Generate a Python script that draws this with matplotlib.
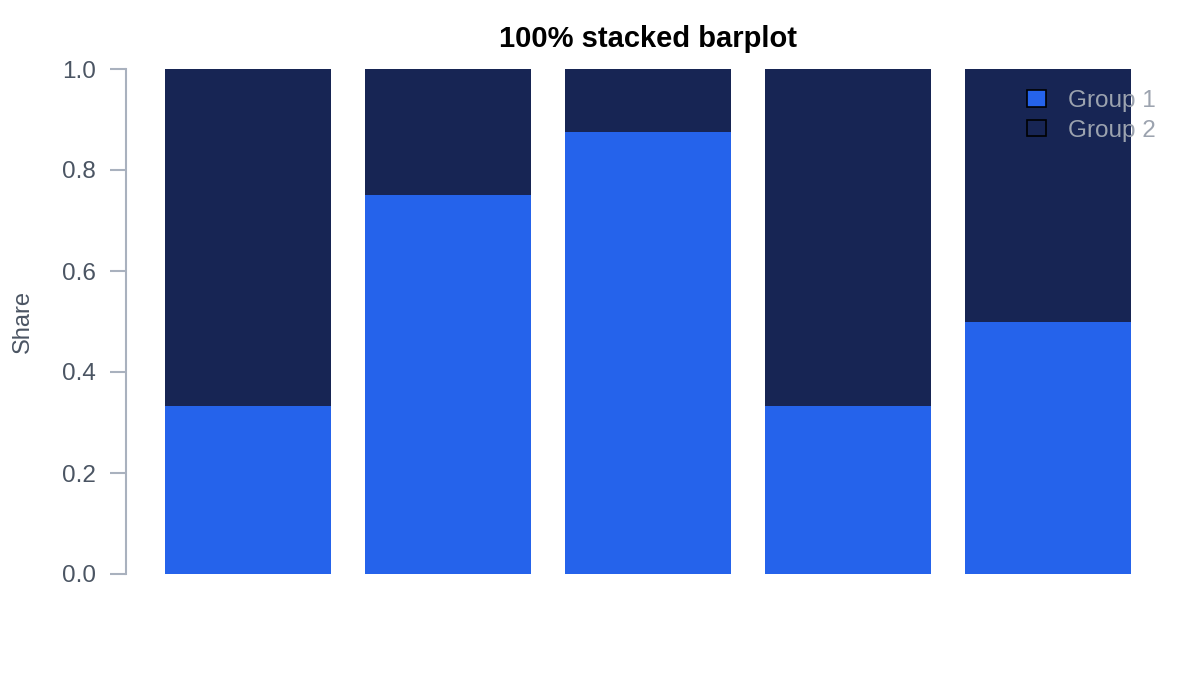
import matplotlib
matplotlib.use("Agg")
import matplotlib.pyplot as plt
import numpy as np

categories = ["A", "B", "C", "D", "E"]
group1 = [1/3, 0.75, 0.875, 1/3, 0.5]
group2 = [1 - v for v in group1]
series_names = ["Group 1", "Group 2"]
yticks = [0.0, 0.2, 0.4, 0.6, 0.8, 1.0]

plt.rcParams['font.family'] = ['Liberation Sans', 'DejaVu Sans']

fig = plt.figure(figsize=(12, 7), dpi=100)
ax = fig.add_axes([126/1200, 126/700, (1148-126)/1200, (574-69)/700])

x = np.arange(len(categories))
c1 = "#2563EB"
c2 = "#172554"
ax.bar(x, group1, width=0.83, color=c1, label=series_names[0])
ax.bar(x, group2, bottom=group1, width=0.83, color=c2, label=series_names[1])

ax.set_xlim(-0.61, 4.5)
ax.set_ylim(0, 1)
ax.set_xticks([])
ax.set_yticks(yticks)
ax.set_yticklabels([f"{v:.1f}" for v in yticks])
for s in ["top", "right", "bottom"]:
    ax.spines[s].set_visible(False)
ax.spines["left"].set_color("#A9B1BE")
ax.spines["left"].set_linewidth(1.5)
ax.tick_params(axis="y", length=11.5, width=1.5, color="#A9B1BE",
               labelcolor="#4B5563", labelsize=17.5, pad=10)

ax.set_ylabel("Share", color="#4B5563", fontsize=17)
ax.yaxis.set_label_coords(-0.090, 0.5)
ax.set_title("100% stacked barplot", fontsize=21, fontweight="bold",
             color="black", pad=16, x=0.5108)

leg = ax.legend(loc="upper left", bbox_to_anchor=(0.8816, 0.958), frameon=False,
                fontsize=17.5, handlelength=0.78, handleheight=0.66,
                handletextpad=0.9, labelspacing=0.31, borderpad=0,
                borderaxespad=0)
for t in leg.get_texts():
    t.set_color("#9CA3AF")
for h in leg.legend_handles:
    h.set_edgecolor("black")
    h.set_linewidth(1.2)

fig.savefig("out.png", dpi=100)
